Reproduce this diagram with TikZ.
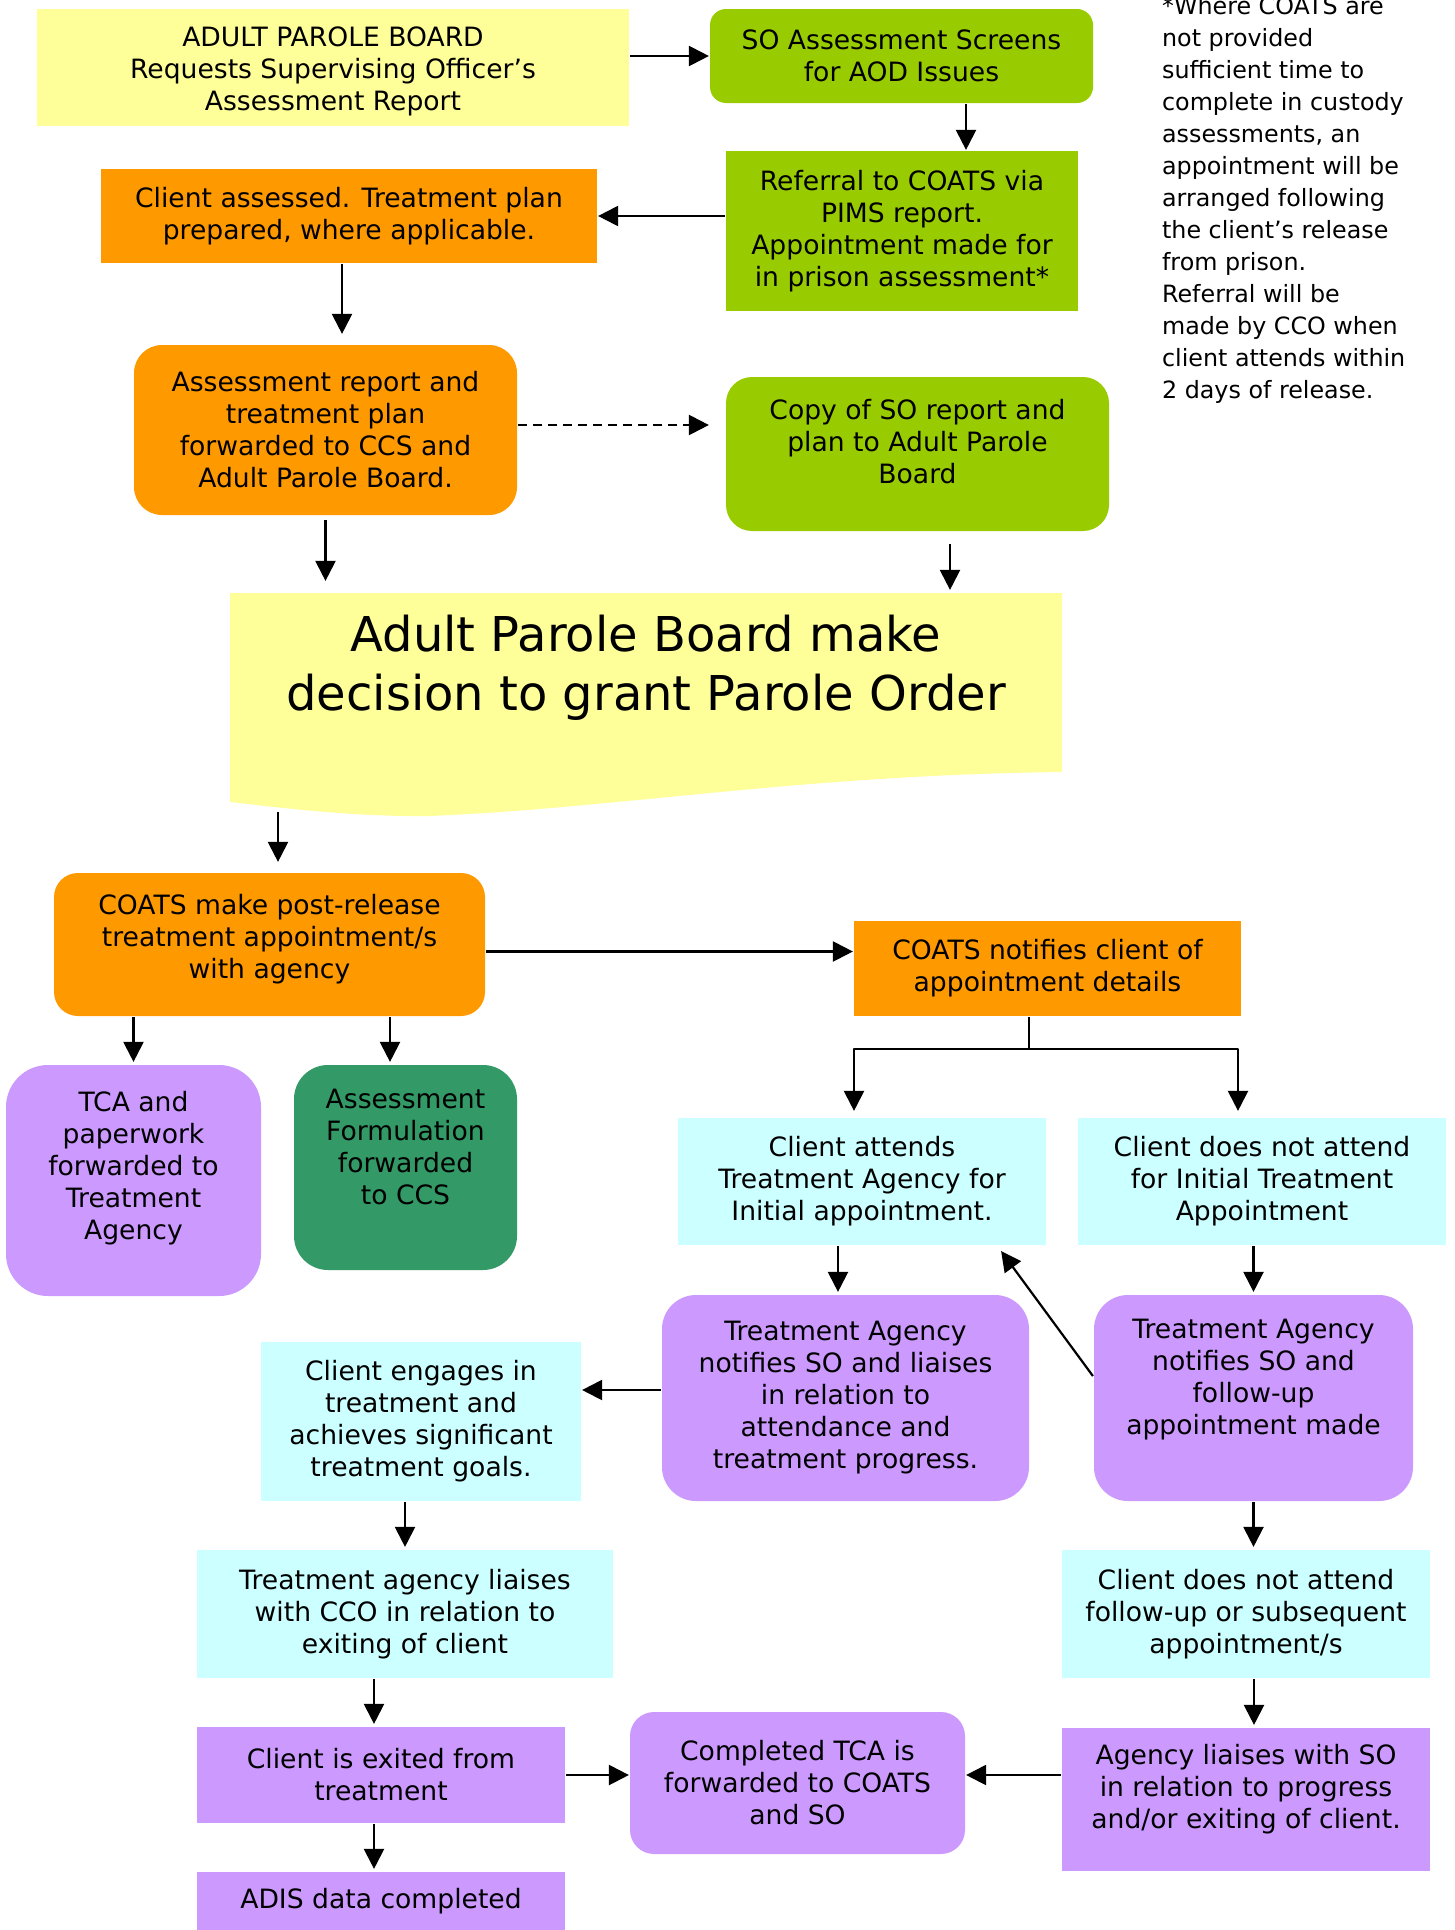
\documentclass[tikz,border=0pt]{standalone}
\usepackage{fontspec}
\setmainfont{DejaVu Sans}
\usetikzlibrary{arrows.meta}
\definecolor{pyellow}{HTML}{FFFF99}
\definecolor{pgreen}{HTML}{99CC00}
\definecolor{porange}{HTML}{FF9900}
\definecolor{ppurple}{HTML}{CC99FF}
\definecolor{pdkgreen}{HTML}{339966}
\definecolor{pcyan}{HTML}{CCFFFF}
\begin{document}
\begin{tikzpicture}[x=1pt,y=-1pt,line join=round,line width=2.2pt,
	>={Triangle[length=20pt,width=20pt]},
	box/.style={rectangle,inner sep=0pt,align=center,font=\fontsize{26.6}{32}\selectfont},
	bigtxt/.style={inner sep=0pt,align=center,font=\fontsize{48}{59}\selectfont},
	note/.style={inner sep=0pt,align=left,font=\fontsize{23.8}{32}\selectfont}]
	\useasboundingbox (0,0) rectangle (1455,1930);
	% hang tren
	\node[box,fill=pyellow,minimum width=592pt,minimum height=117pt] (apb) at (333,67.5) {\strut\\[-27pt]ADULT PAROLE BOARD\\Requests Supervising Officer’s\\Assessment Report};
	\node[box,fill=pgreen,rounded corners=16pt,minimum width=383pt,minimum height=94pt] (so) at (901.5,56) {SO Assessment Screens\\for AOD Issues};
	\node[box,fill=pgreen,minimum width=352pt,minimum height=160pt] (ref) at (902,231) {Referral to COATS via\\PIMS report.\\Appointment made for\\in prison assessment*};
	\node[box,fill=porange,minimum width=496pt,minimum height=94pt] (cas) at (349,216) {Client assessed. Treatment plan\\prepared, where applicable.};
	\node[box,fill=porange,rounded corners=28pt,minimum width=383pt,minimum height=170pt] (asr) at (325.5,430) {Assessment report and\\treatment plan\\forwarded to CCS and\\Adult Parole Board.};
	\node[box,fill=pgreen,rounded corners=26pt,minimum width=383pt,minimum height=154pt] (copy) at (917.5,454) {Copy of SO report and\\plan to Adult Parole\\Board\\[-16pt]\strut};
	\node[note,anchor=north west] (nb) at (1161,-4.5) {*Where COATS are\\not provided\\sufficient time to\\complete in custody\\assessments, an\\appointment will be\\arranged following\\the client’s release\\from prison.\\Referral will be\\made by CCO when\\client attends within\\2 days of release.};
	% quyet dinh
	\fill[pyellow] (230,593) -- (1062,593) -- (1062,772) .. controls (800,775) and (620,808) .. (430,816) .. controls (360,817) and (290,809) .. (230,802) -- cycle;
	\node[minimum width=832pt,minimum height=223pt,inner sep=0pt] (dec) at (646,704.5) {};
	\node[bigtxt] (dectxt) at ([yshift=37pt]dec.center) {Adult Parole Board make\\decision to grant Parole Order};
	\coordinate (dbot) at (278,812);
	% giua
	\node[box,fill=porange,rounded corners=24pt,minimum width=431pt,minimum height=143pt] (cm) at (269.5,944.5) {COATS make post-release\\treatment appointment/s\\with agency\\[-26pt]\strut};
	\node[box,fill=porange,minimum width=387pt,minimum height=95pt] (cn) at (1047.5,968.5) {COATS notifies client of\\appointment details};
	\node[box,fill=ppurple,rounded corners=42pt,minimum width=255pt,minimum height=231pt] (tca) at (133.5,1180.5) {TCA and\\paperwork\\forwarded to\\Treatment\\Agency\\[-12pt]\strut};
	\node[box,fill=pdkgreen,rounded corners=34pt,minimum width=223pt,minimum height=205pt] (af) at (405.5,1167.5) {Assessment\\Formulation\\forwarded\\to CCS\\\strut};
	\node[box,fill=pcyan,minimum width=368pt,minimum height=127pt] (att) at (862,1181.5) {Client attends\\Treatment Agency for\\Initial appointment.};
	\node[box,fill=pcyan,minimum width=368pt,minimum height=127pt] (nat) at (1262,1181.5) {Client does not attend\\for Initial Treatment\\Appointment};
	\node[box,fill=ppurple,rounded corners=34pt,minimum width=367pt,minimum height=206pt] (tal) at (845.5,1398) {Treatment Agency\\notifies SO and liaises\\in relation to\\attendance and\\treatment progress.};
	\node[box,fill=ppurple,rounded corners=34pt,minimum width=319pt,minimum height=206pt] (taf) at (1253.5,1398) {Treatment Agency\\notifies SO and\\follow-up\\appointment made\\\strut};
	\node[box,fill=pcyan,minimum width=320pt,minimum height=159pt] (ce) at (421,1421.5) {Client engages in\\treatment and\\achieves significant\\treatment goals.};
	% hang duoi
	\node[box,fill=pcyan,minimum width=416pt,minimum height=128pt] (cco) at (405,1614) {Treatment agency liaises\\with CCO in relation to\\exiting of client};
	\node[box,fill=pcyan,minimum width=368pt,minimum height=128pt] (nfu) at (1246,1614) {Client does not attend\\follow-up or subsequent\\appointment/s};
	\node[box,fill=ppurple,minimum width=368pt,minimum height=96pt] (ex) at (381,1775) {Client is exited from\\treatment};
	\node[box,fill=ppurple,rounded corners=24pt,minimum width=335pt,minimum height=142pt] (tcad) at (797.5,1783) {Completed TCA is\\forwarded to COATS\\and SO};
	\node[box,fill=ppurple,minimum width=368pt,minimum height=143pt] (al) at (1246,1799.5) {Agency liaises with SO\\in relation to progress\\and/or exiting of client.\\[-15pt]\strut};
	\node[box,fill=ppurple,minimum width=368pt,minimum height=58pt] (adis) at (381,1901) {ADIS data completed};
	% mui ten
	\draw[->] (so.west -| apb.east) -- (so.west);
	\draw[->] ([xshift=64.5pt]so.south) -- ([xshift=64.5pt]so.south |- ref.north);
	\draw[->] (cas.east -| ref.west) -- (cas.east);
	\draw[->,shorten >=10pt] ([xshift=-7pt]cas.south) -- ([xshift=-7pt]cas.south |- asr.north);
	\draw[->,dash pattern=on 9pt off 6pt,shorten >=16pt] ([yshift=5pt]asr.east) -- ([yshift=5pt]asr.east -| copy.west);
	\draw[->,shorten <=4pt,shorten >=11pt] (asr.south) -- (asr.south |- dec.north);
	\draw[->,shorten <=12pt,shorten >=2pt] ([xshift=32.5pt]copy.south) -- ([xshift=32.5pt]copy.south |- dec.north);
	\draw[->,shorten >=10pt] (dbot) -- (dbot |- cm.north);
	\draw[->] ([yshift=-7pt]cm.east) -- ([yshift=-7pt]cm.east -| cn.west);
	\draw[->,shorten >=2pt] (tca.north |- cm.south) -- (tca.north);
	\draw[->,shorten >=2pt] ([xshift=-15.5pt]af.north |- cm.south) -- ([xshift=-15.5pt]af.north);
	\coordinate (split) at ([xshift=-18.5pt,yshift=-32pt]cn.south);
	\draw (cn.south -| split) -- (split);
	\draw[->,shorten >=6pt] (split) -| ([xshift=-8pt]att.north);
	\draw[->,shorten >=6pt] (split) -| ([xshift=-24pt]nat.north);
	\draw[->,shorten >=2pt] ([xshift=-7.5pt]tal.north |- att.south) -- ([xshift=-7.5pt]tal.north);
	\draw[->,shorten >=2pt] (taf.north |- nat.south) -- (taf.north);
	\draw[->] ([yshift=22pt]taf.west) -- ([xshift=-46pt,yshift=-5pt]att.south east);
	\draw[->] ([yshift=8pt]tal.west) -- ([yshift=8pt]tal.west -| ce.east);
	\draw[->,shorten >=2pt] (cco.north |- ce.south) -- (cco.north);
	\draw[->,shorten >=2pt] (taf.south) -- (taf.south |- nfu.north);
	\draw[->,shorten >=2pt] ([xshift=-7pt]ex.north |- cco.south) -- ([xshift=-7pt]ex.north);
	\draw[->,shorten >=2pt] ([xshift=8pt]nfu.south) -- ([xshift=8pt]nfu.south |- al.north);
	\draw[->] (ex.east) -- (ex.east -| tcad.west);
	\draw[->] ([yshift=24.5pt]al.west) -- ([yshift=24.5pt]al.west -| tcad.east);
	\draw[->,shorten >=2pt] ([xshift=-7pt]ex.south) -- ([xshift=-7pt]ex.south |- adis.north);
\end{tikzpicture}
\end{document}
